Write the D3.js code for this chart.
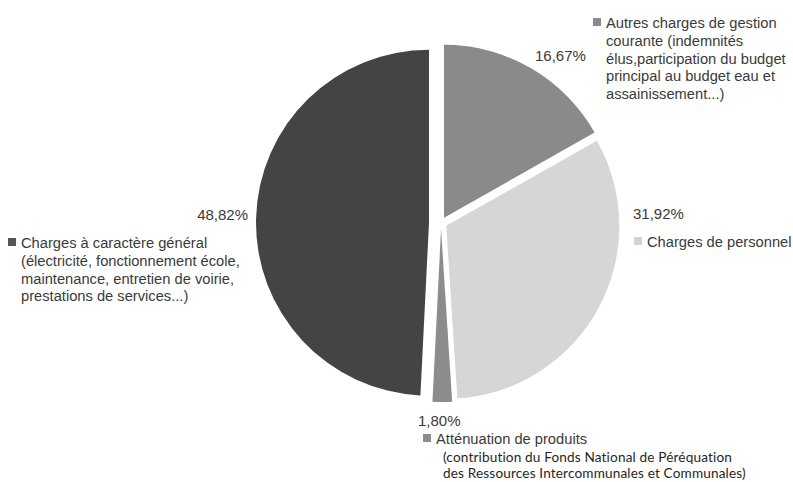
<!DOCTYPE html>
<html>
<head>
<meta charset="utf-8">
<script src="https://cdn.jsdelivr.net/npm/d3@7"></script>
<style>
  body { margin: 0; background: #fff; }
  svg { display: block; }
</style>
</head>
<body>
<svg id="chart"></svg>
<script>
// chart values, clockwise from 12 o'clock
const categories = [
  "Autres charges de gestion courante",
  "Charges de personnel",
  "Atténuation de produits",
  "Charges à caractère général"
];
const values = [16.67, 31.92, 1.80, 48.82];

// legend text, one array of lines per category
const legendLines = [
  ["Autres charges de gestion", "courante (indemnités", "élus,participation du budget", "principal au budget eau et", "assainissement...)"],
  ["Charges de personnel"],
  ["Atténuation de produits"],
  ["Charges à caractère général", "(électricité, fonctionnement école,", "maintenance, entretien de voirie,", "prestations de services...)"]
];
const noteLines = [
  "(contribution du Fonds National de Péréquation",
  "des Ressources Intercommunales et Communales)"
];

const width = 793, height = 482;
const cx = 441, cy = 223, radius = 173;

const fills = ["#8a8a8a", "#d6d6d6", "#8c8c8c", "#444444"];
const markerFills = ["#8a8a8a", "#d2d2d2", "#8c8c8c", "#555555"];
const explode = [6, 6, 6, 12];

// where each percentage and legend block sits
const placement = [
  { pct: [535, 61, "start"], legend: [593, 28] },
  { pct: [633, 219, "start"], legend: [634, 247] },
  { pct: [418, 426, "start"], legend: [423, 444] },
  { pct: [248, 220, "end"], legend: [8, 248] }
];

const locale = d3.formatLocale({ decimal: ",", thousands: " ", grouping: [3], currency: ["", " €"] });
const fmt = v => locale.format(".2f")(v) + "%";

const svg = d3.select("#chart").attr("width", width).attr("height", height);

const pie = d3.pie().sort(null).value(d => d);
const arc = d3.arc().innerRadius(0).outerRadius(radius);
const arcs = pie(values);

svg.append("g")
  .attr("transform", `translate(${cx},${cy})`)
  .selectAll("path")
  .data(arcs)
  .join("path")
  .attr("d", arc)
  .attr("fill", (d, i) => fills[i])
  .attr("transform", (d, i) => {
    const a = (d.startAngle + d.endAngle) / 2;
    return `translate(${Math.sin(a) * explode[i]},${-Math.cos(a) * explode[i]})`;
  });

const textColor = "#3a3a3a";
const font = "'Liberation Sans', Arial, sans-serif";
const lineH = 17.8;

// percentages
svg.append("g")
  .selectAll("text")
  .data(values)
  .join("text")
  .attr("x", (d, i) => placement[i].pct[0])
  .attr("y", (d, i) => placement[i].pct[1])
  .attr("text-anchor", (d, i) => placement[i].pct[2])
  .style("font", `15px ${font}`)
  .attr("fill", textColor)
  .text(d => fmt(d));

// legend entries
const leg = svg.append("g")
  .selectAll("g")
  .data(categories)
  .join("g")
  .attr("transform", (d, i) => `translate(${placement[i].legend[0]},${placement[i].legend[1]})`);

leg.append("rect")
  .attr("x", 0)
  .attr("y", -10)
  .attr("width", 8)
  .attr("height", 8)
  .attr("fill", (d, i) => markerFills[i]);

leg.append("text")
  .style("font", `14.7px ${font}`)
  .attr("fill", textColor)
  .selectAll("tspan")
  .data((d, i) => legendLines[i])
  .join("tspan")
  .attr("x", 13)
  .attr("y", (d, j) => j * lineH)
  .text(d => d);

// footnote under "Atténuation de produits"
svg.append("text")
  .style("font", "13.6px Lato, 'Open Sans', sans-serif")
  .style("letter-spacing", "0.15px")
  .attr("fill", "#262626")
  .selectAll("tspan")
  .data(noteLines)
  .join("tspan")
  .attr("x", 443)
  .attr("y", (d, j) => 461.5 + j * 16.5)
  .text(d => d);
</script>
</body>
</html>
